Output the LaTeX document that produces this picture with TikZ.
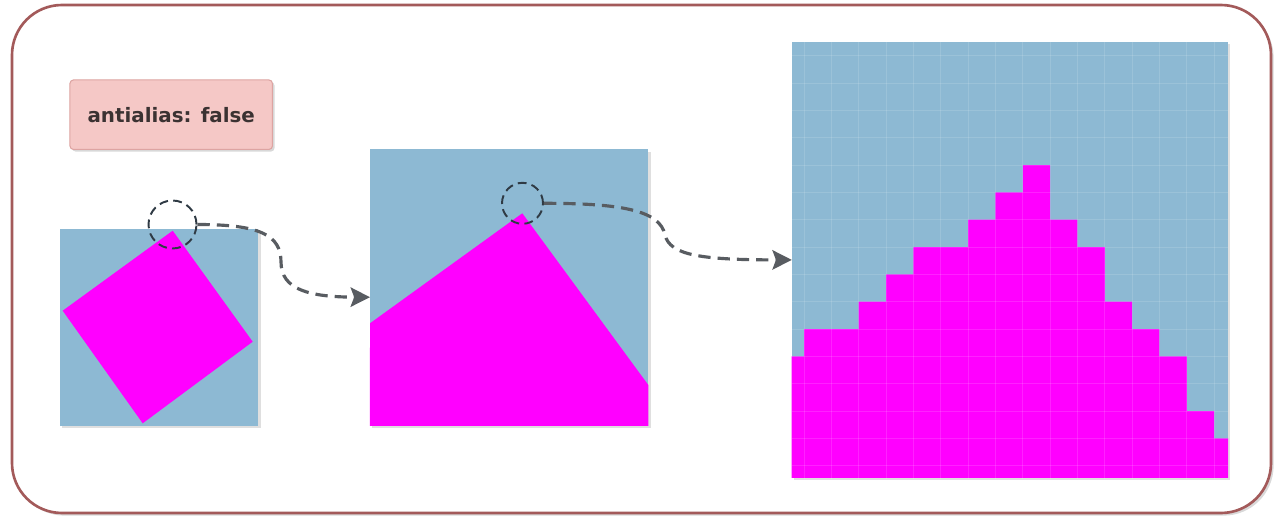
\documentclass[tikz,border=0pt]{standalone}
\usepackage{fontspec}
\setsansfont{DejaVu Sans}
\usetikzlibrary{arrows.meta,shadows}

\definecolor{pixblue}{HTML}{8DB9D3}
\definecolor{pixmagenta}{HTML}{FF00FF}
\definecolor{framered}{HTML}{A35A5A}
\definecolor{labelpink}{HTML}{F5C8C6}
\definecolor{labelline}{HTML}{DDA4A2}
\definecolor{labeltext}{HTML}{3B3232}
\definecolor{ringgray}{HTML}{2F3A44}
\definecolor{arrowgray}{HTML}{585C61}

\begin{document}
\begin{tikzpicture}[
    x=0.02cm, y=-0.02cm,
    canvas/.style={rectangle, fill=pixblue, inner sep=0pt, outer sep=0pt,
                   drop shadow={shadow xshift=1.2pt, shadow yshift=-1.2pt, opacity=0.25}},
    ring/.style={circle, draw=ringgray, line width=1.1pt,
                 dash pattern=on 5pt off 3pt, inner sep=0pt},
    zoomarrow/.style={draw=arrowgray, line width=1.8pt, dash pattern=on 7pt off 4pt,
                      -{Stealth[length=11pt, width=11pt, inset=2pt]}},
    gridline/.style={white, opacity=0.13, line width=0.4pt},
]

\useasboundingbox (0,0) rectangle (1274,517);

% outer frame
\draw[framered, line width=1.5pt, rounded corners=1cm, fill=white,
      drop shadow={shadow xshift=1.5pt, shadow yshift=-1.5pt, opacity=0.3}]
  (12,5) rectangle (1271,513);

\node[rectangle, rounded corners=2pt, fill=labelpink, draw=labelline, line width=0.6pt,
      minimum width=4.05cm, minimum height=1.39cm,
      drop shadow={shadow xshift=1.2pt, shadow yshift=-1.2pt, opacity=0.3},
      font=\sffamily\bfseries\fontsize{11.3}{13}\selectfont, text=labeltext]
      (label) at (171.2,114.7) {antialias: false};

% rotated square
\node[canvas, minimum width=3.97cm, minimum height=3.93cm] (small) at (159.2,327.7) {};
\fill[pixmagenta] (172.7,230.7) -- (252.7,341.7) -- (142.7,423.3) -- (62.7,310.7) -- cycle;
\node[ring, minimum size=0.96cm] (zoomA) at (172.5,224.5) {};

% first zoom
\node[canvas, minimum width=5.57cm, minimum height=5.53cm] (mid) at (509.2,287.7) {};
\fill[pixmagenta] (mid.south west) -- (370,323.3) -- (522.3,213.3) -- (648.3,385)
  -- (mid.south east) -- cycle;
\node[ring, minimum size=0.82cm] (zoomB) at (522.5,203.3) {};

% second zoom, pixels
\node[canvas, minimum width=8.73cm, minimum height=8.73cm] (big) at (1010,259.9) {};
\begin{scope}[shift={(804,165)}, x=0.547cm, y=-0.547cm]
  \fill[pixmagenta] (-0.45,11.44) -- (-0.45,7) -- (0,7) -- (0,6) -- (2,6) -- (2,5) -- (3,5)
    -- (3,4) -- (4,4) -- (4,3) -- (6,3) -- (6,2) -- (7,2) -- (7,1) -- (8,1) -- (8,0)
    -- (9,0) -- (9,2) -- (10,2) -- (10,3) -- (11,3) -- (11,5) -- (12,5) -- (12,6)
    -- (13,6) -- (13,7) -- (14,7) -- (14,9) -- (15,9) -- (15,10) -- (15.51,10)
    -- (15.51,11.44) -- cycle;
  \clip (big.south west) rectangle (big.north east);
  \foreach \k in {0,...,15} \draw[gridline] (\k,-5) -- (\k,12);
  \foreach \r in {-4,...,11} \draw[gridline] (-1,\r) -- (16,\r);
\end{scope}

\draw[zoomarrow] (zoomA.east) .. controls (260,224.5) and (281,235) .. (281,262)
  .. controls (281,290) and (310,297) .. ([yshift=-0.19cm]mid.west);
\draw[zoomarrow] (zoomB.east) .. controls (620,203.3) and (660,210) .. (665,235)
  .. controls (670,255) and (700,259.9) .. (big.west);

\end{tikzpicture}
\end{document}
